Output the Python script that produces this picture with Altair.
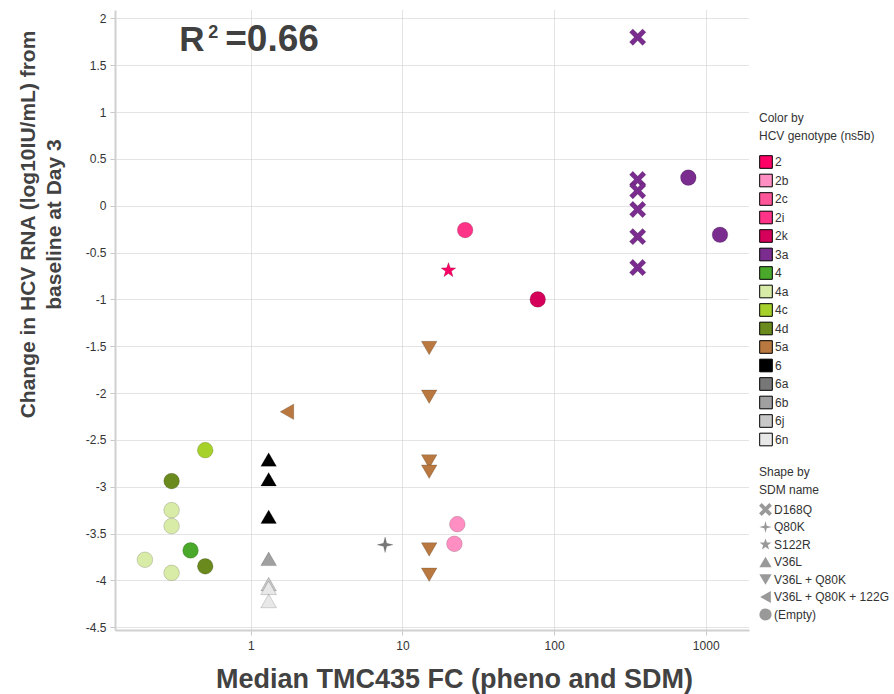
import altair as alt
import pandas as pd

# ---------------- data ----------------
genotype = ["3a", "3a", "3a", "3a", "3a", "3a",
            "3a", "3a",
            "2i", "2", "2k",
            "5a", "5a", "5a", "5a", "5a", "5a",
            "2b", "2b", "6a", "5a",
            "4c", "4d", "4a", "4a", "4", "4a", "4d", "4a",
            "6", "6", "6", "6b", "6j", "6n", "6n"]
sdm = ["D168Q", "D168Q", "D168Q", "D168Q", "D168Q", "D168Q",
       "(Empty)", "(Empty)",
       "(Empty)", "S122R", "(Empty)",
       "V36L + Q80K", "V36L + Q80K", "V36L + Q80K", "V36L + Q80K", "V36L + Q80K", "V36L + Q80K",
       "(Empty)", "(Empty)", "Q80K", "V36L + Q80K + 122G",
       "(Empty)", "(Empty)", "(Empty)", "(Empty)", "(Empty)", "(Empty)", "(Empty)", "(Empty)",
       "V36L", "V36L", "V36L", "V36L", "V36L", "V36L", "V36L"]
fold_change = [356, 356, 356, 356, 356, 356,
               768, 1242,
               25.9, 20.1, 78,
               15.0, 15.0, 15.0, 15.0, 15.0, 15.0,
               23.0, 22.0, 7.68, 1.73,
               0.50, 0.30, 0.30, 0.30, 0.40, 0.20, 0.50, 0.30,
               1.31, 1.31, 1.31, 1.31, 1.31, 1.31, 1.31]
rna_change = [1.80, 0.28, 0.16, -0.04, -0.33, -0.66,
              0.30, -0.31,
              -0.26, -0.69, -1.00,
              -1.52, -2.04, -2.73, -2.84, -3.67, -3.94,
              -3.40, -3.61, -3.62, -2.20,
              -2.61, -2.94, -3.25, -3.42, -3.68, -3.78, -3.85, -3.92,
              -2.71, -2.92, -3.32, -3.77, -4.04, -4.08, -4.22]

genotype_levels = ["2", "2b", "2c", "2i", "2k", "3a", "4", "4a", "4c", "4d",
                   "5a", "6", "6a", "6b", "6j", "6n"]
genotype_colors = ["#FF0066", "#FF8FC2", "#FF5599", "#FF3388", "#D4005A", "#7A2D8F",
                   "#4AA82A", "#D8EBA7", "#A6D02A", "#6A8A1E", "#B8783F", "#000000",
                   "#777777", "#A0A0A0", "#C8C8C8", "#E8E8E8"]

sdm_levels = ["D168Q", "Q80K", "S122R", "V36L", "V36L + Q80K",
              "V36L + Q80K + 122G", "(Empty)"]
X_PATH = ("M-0.62,-1.05L0,-0.43L0.62,-1.05L1.05,-0.62L0.43,0L1.05,0.62L0.62,1.05L0,0.43"
          "L-0.62,1.05L-1.05,0.62L-0.43,0L-1.05,-0.62Z")
STAR4_PATH = "M0,-1L0.2,-0.2L1,0L0.2,0.2L0,1L-0.2,0.2L-1,0L-0.2,-0.2Z"
STAR5_PATH = ("M0,-1L0.235,-0.324L0.951,-0.309L0.38,0.124L0.588,0.809"
              "L0,0.4L-0.588,0.809L-0.38,0.124L-0.951,-0.309L-0.235,-0.324Z")
sdm_shapes = [X_PATH, STAR4_PATH, STAR5_PATH, "triangle-up", "triangle-down",
              "triangle-left", "circle"]

x_ticks = [1, 10, 100, 1000]
y_ticks = [2, 1.5, 1, 0.5, 0, -0.5, -1, -1.5, -2, -2.5, -3, -3.5, -4, -4.5]

ann_x = [0.337]
ann_y = [1.65]

df = pd.DataFrame({"genotype": genotype, "sdm": sdm,
                   "fc": fold_change, "rna": rna_change})
ann = pd.DataFrame({"x": ann_x, "y": ann_y})

FONT = "Liberation Sans"
TXT = "#333333"
TITLE = "#424242"

x_scale = alt.Scale(type="log", domain=[0.127, 1930], nice=False)
y_scale = alt.Scale(domain=[-4.53, 2.09], nice=False, zero=False)

points = alt.Chart(df).mark_point(
    filled=True, size=245, opacity=1,
    stroke="black", strokeWidth=0.8, strokeOpacity=0.2
).encode(
    x=alt.X("fc:Q", scale=x_scale,
            axis=alt.Axis(values=x_ticks, format="d",
                          title="Median TMC435 FC (pheno and SDM)",
                          titleFontSize=27,
                          titleX=339, titleY=57, titleBaseline="alphabetic",
                          titleAlign="center")),
    y=alt.Y("rna:Q", scale=y_scale,
            axis=alt.Axis(values=y_ticks, labelExpr="'' + datum.value",
                          title=["Change in HCV RNA (log10IU/mL) from",
                                 "baseline at Day 3"],
                          titleFontSize=21,
                          titleX=-98, titleY=214, titleAngle=270,
                          titleBaseline="top", titleAlign="center",
                          titleLineHeight=26)),
    color=alt.Color("genotype:N",
                    scale=alt.Scale(domain=genotype_levels, range=genotype_colors),
                    legend=alt.Legend(title=["Color by", "HCV genotype (ns5b)"],
                                      orient="none", legendX=644, legendY=103,
                                      symbolType="square", symbolSize=160,
                                      symbolStrokeWidth=1, rowPadding=0.5,
                                      labelOffset=2, titleLineHeight=18,
                                      titlePadding=12, padding=0)),
    shape=alt.Shape("sdm:N",
                    scale=alt.Scale(domain=sdm_levels, range=sdm_shapes),
                    legend=alt.Legend(title=["Shape by", "SDM name"],
                                      orient="none", legendX=644, legendY=457,
                                      symbolSize=150, symbolFillColor="#999999",
                                      symbolStrokeColor="#999999",
                                      symbolStrokeWidth=0, rowPadding=4.5,
                                      labelOffset=2, titleLineHeight=18,
                                      titlePadding=6, padding=0)),
)

r_text = alt.Chart(ann).mark_text(
    text="R", font=FONT, fontSize=35, fontWeight="bold", color="#404040",
    align="left", baseline="alphabetic"
).encode(x=alt.X("x:Q", scale=x_scale), y=alt.Y("y:Q", scale=y_scale))

sup_text = alt.Chart(ann).mark_text(
    text="2", font=FONT, fontSize=18, fontWeight="bold", color="#404040",
    align="left", baseline="alphabetic", dx=29, dy=-13
).encode(x=alt.X("x:Q", scale=x_scale), y=alt.Y("y:Q", scale=y_scale))

val_text = alt.Chart(ann).mark_text(
    text="=0.66", font=FONT, fontSize=37, fontWeight="bold", color="#404040",
    align="left", baseline="alphabetic", dx=46
).encode(x=alt.X("x:Q", scale=x_scale), y=alt.Y("y:Q", scale=y_scale))

chart = alt.layer(points, r_text, sup_text, val_text).properties(
    width=634, height=620,
    autosize=alt.AutoSizeParams(type="none"),
    padding={"left": 115, "top": 10, "right": 145, "bottom": 64},
    background="white",
).configure_view(strokeWidth=0).configure_axis(
    labelFont=FONT, labelFontSize=12, labelColor=TXT,
    titleFont=FONT, titleFontSize=24, titleFontWeight="bold", titleColor=TITLE,
    domainColor="#D0D0D0", domainWidth=2,
    tickColor="#C8C8C8", tickSize=5, labelPadding=4,
    gridColor="#C8C8C8", gridDash=[1, 1], gridWidth=1,
).configure_axisX(labelPadding=5).configure_legend(
    labelFont=FONT, labelFontSize=12, labelColor=TXT,
    titleFont=FONT, titleFontSize=12, titleFontWeight="normal", titleColor=TXT,
)

chart.save("out.html", embed_options={"renderer": "svg", "actions": False})
